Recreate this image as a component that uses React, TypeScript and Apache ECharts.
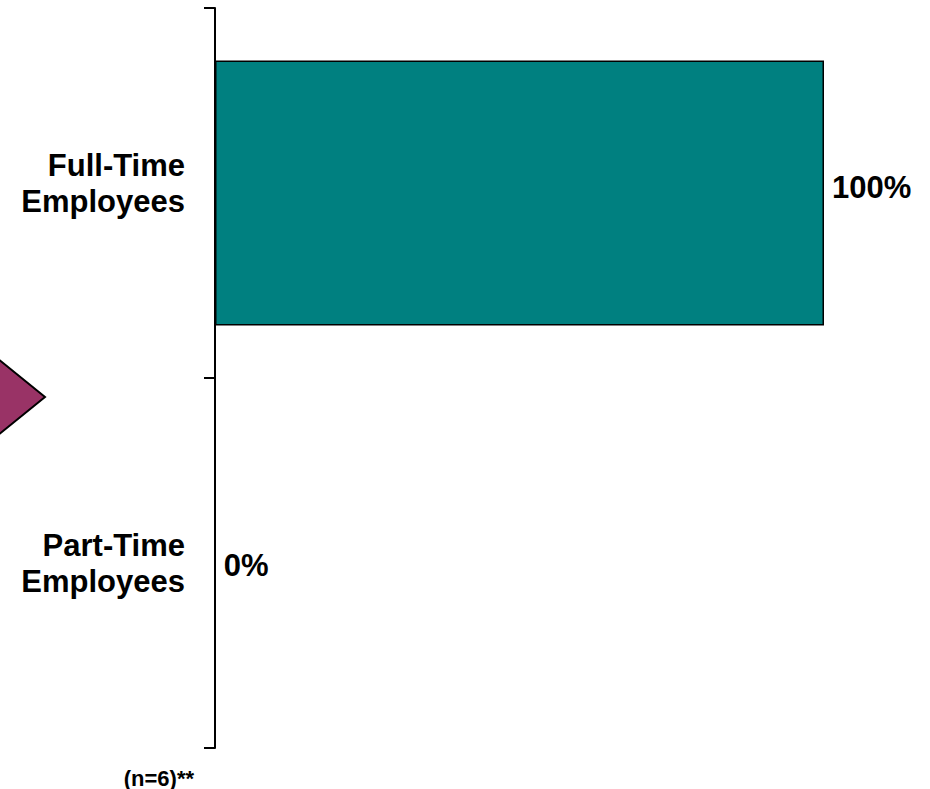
import React, { useEffect, useRef } from "react";
import * as echarts from "echarts";

const categories = ["Full-Time\nEmployees", "Part-Time\nEmployees"];
const values = [100, 0];
const sampleNote = "(n=6)**";

const FONT = "Arial, 'Liberation Sans', Helvetica, sans-serif";
const labelSpacer = [20, 0];
const valueShift = [-6, 2];

export default function App() {
  const ref = useRef<HTMLDivElement>(null);
  useEffect(() => {
    if (!ref.current) return;
    const chart = echarts.init(ref.current, null, { renderer: "svg" });
    chart.setOption({
      animation: false,
      backgroundColor: "#ffffff",
      grid: { left: 215, right: 106, top: 8, bottom: 41, containLabel: false },
      xAxis: { type: "value", min: 0, max: 100, show: false },
      yAxis: {
        type: "category",
        data: categories,
        inverse: true,
        axisLine: { show: true, lineStyle: { color: "#000", width: 2 } },
        axisTick: { show: true, inside: false, length: 11, alignWithLabel: false, lineStyle: { color: "#000", width: 2 } },
        axisLabel: {
          margin: 30,
          fontSize: 31,
          fontWeight: "bold",
          fontFamily: FONT,
          color: "#000",
          lineHeight: 36,
          align: "right",
          formatter: (val: string, idx: number) => {
            const lines = val.split("\n").map((l) => `{t|${l}}`);
            if (labelSpacer[idx] > 0) lines.push("{s| }");
            return lines.join("\n");
          },
          rich: {
            t: { fontSize: 31, fontWeight: "bold", fontFamily: FONT, color: "#000", lineHeight: 36 },
            s: { fontSize: 10, lineHeight: 20 },
          },
        },
        splitLine: { show: false },
      },
      series: [
        {
          type: "bar",
          data: values.map((v, i) => ({
            value: v,
            label: { offset: [0, valueShift[i]] },
          })),
          barWidth: 265,
          itemStyle: { color: "#008080", borderColor: "#000", borderWidth: 1.5 },
          label: {
            show: true,
            position: "right",
            distance: 8,
            formatter: "{c}%",
            fontSize: 31,
            fontWeight: "bold",
            fontFamily: FONT,
            color: "#000",
          },
        },
      ],
      graphic: [
        {
          type: "polygon",
          shape: { points: [[-60, 397], [-8, 354], [45, 397], [-8, 440]] },
          style: { fill: "#993366", stroke: "#000", lineWidth: 2 },
          z: 10,
        },
        {
          type: "text",
          x: 194,
          y: 778,
          style: {
            text: sampleNote,
            fontSize: 22,
            fontWeight: "bold",
            fontFamily: FONT,
            fill: "#000",
            align: "right",
            verticalAlign: "middle",
          },
        },
      ],
    });
    return () => chart.dispose();
  }, []);
  return (
    <div
      ref={ref}
      style={{ position: "absolute", left: 0, top: 0, width: 930, height: 789 }}
    />
  );
}
